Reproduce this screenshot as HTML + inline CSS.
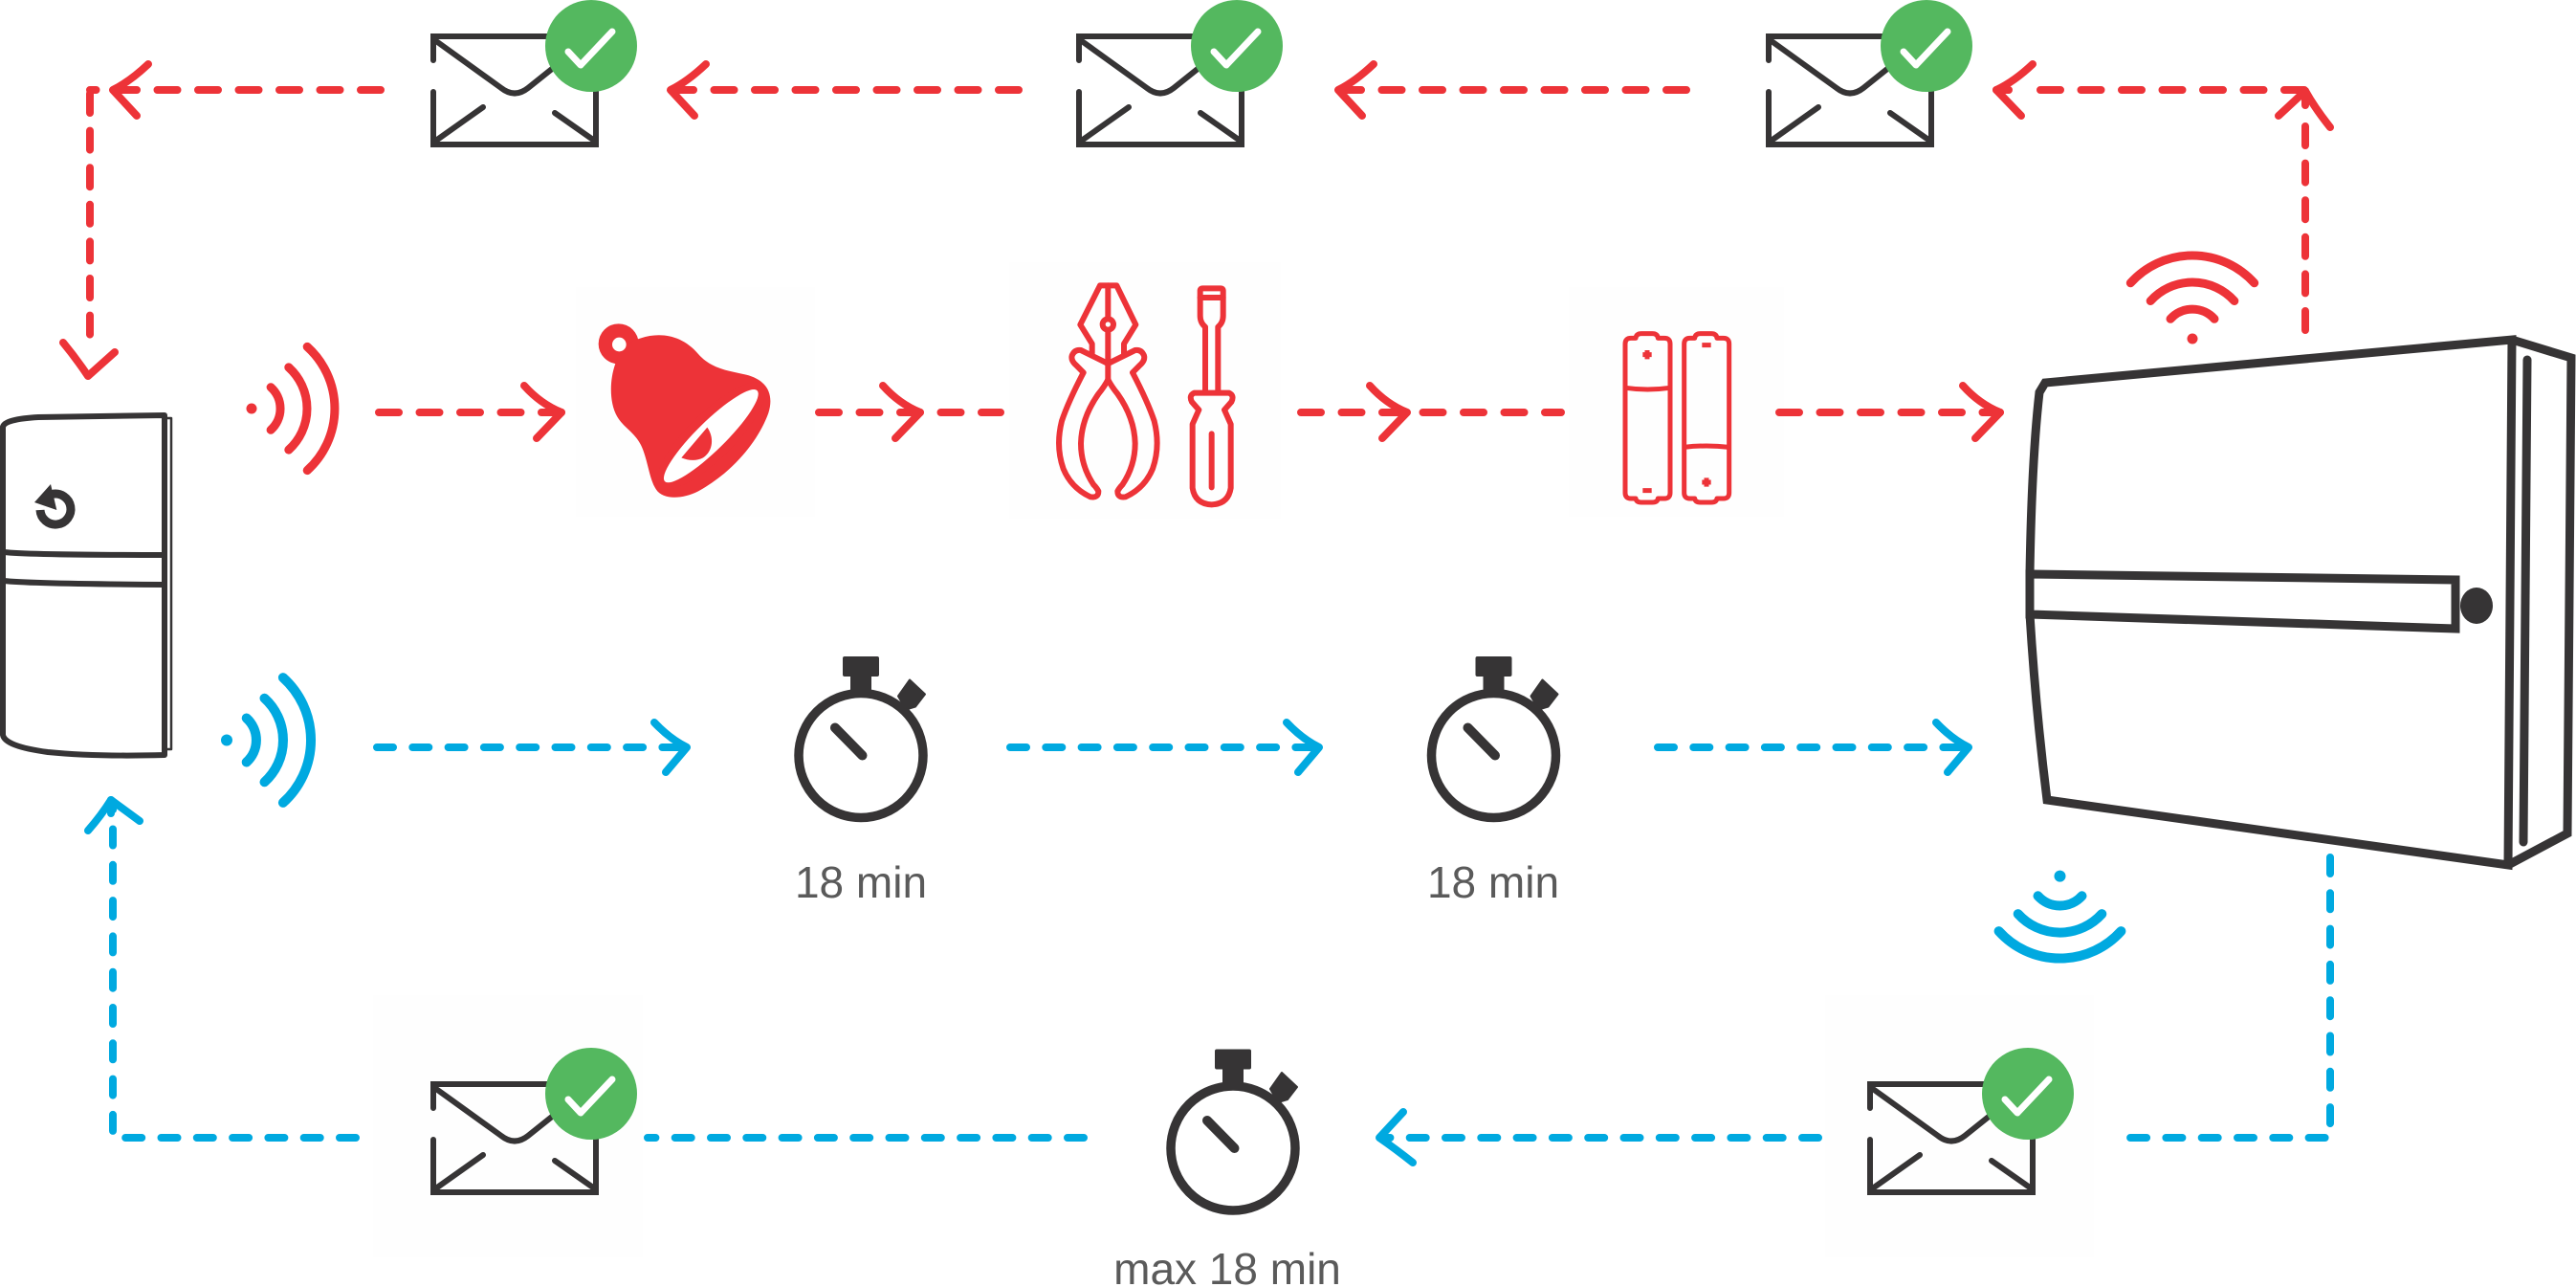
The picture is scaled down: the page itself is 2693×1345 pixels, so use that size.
<!DOCTYPE html>
<html>
<head>
<meta charset="utf-8">
<style>
html,body{margin:0;padding:0;background:#fff;}
svg{display:block;}
</style>
</head>
<body>
<svg width="2693" height="1345" viewBox="0 0 2693 1345" xmlns="http://www.w3.org/2000/svg" xmlns:xlink="http://www.w3.org/1999/xlink">
<defs>
  <g id="env" fill="none" stroke="#363435" stroke-width="6" stroke-linecap="round" stroke-linejoin="miter">
    <path d="M0 25V0H121"/>
    <path d="M0 58V113H170V57"/>
    <path d="M3 5L71 54Q85 65 99 54L124 34"/>
    <path d="M52 74L4 108"/>
    <path d="M127 80L167 108"/>
    <circle cx="165" cy="10" r="48" fill="#54b85f" stroke="none"/>
    <path d="M141 16L154 30L187 -5" stroke="#fff" stroke-width="7" stroke-linejoin="round"/>
  </g>
  <g id="sw">
    <circle r="65" fill="none" stroke="#363435" stroke-width="9.5"/>
    <rect x="-19" y="-103.5" width="38" height="21" rx="2" fill="#363435"/>
    <rect x="-11" y="-84" width="22" height="20" fill="#363435"/>
    <polygon points="51,-79 67,-64 57,-51 47,-48 39,-62" fill="#363435" stroke="#363435" stroke-width="2" stroke-linejoin="round"/>
    <line x1="-27" y1="-29" x2="1.5" y2="0" stroke="#363435" stroke-width="10" stroke-linecap="round"/>
  </g>
</defs>

<!-- faint panels -->
<rect x="390" y="1040" width="282" height="274" fill="#fefefe"/>
<rect x="1908" y="1040" width="281" height="274" fill="#fefefe"/>
<rect x="1055" y="274" width="284" height="268" fill="#fefefe"/>
<rect x="602" y="300" width="250" height="240" fill="#fefefe"/>
<rect x="1640" y="300" width="225" height="240" fill="#fefefe"/>

<!-- ===== RED DASHED CONNECTORS ===== -->
<g fill="none" stroke="#ed3338" stroke-width="8" stroke-linecap="round" stroke-linejoin="round">
  <g stroke-dasharray="21 21.5">
    <path d="M398 94H94"/>
    <path d="M1065 94H705"/>
    <path d="M1763 94H1403"/>
    <path d="M2409 94H2132"/>
    <path d="M396 431H587"/>
    <path d="M856 431H1046"/>
    <path d="M1360 431H1632"/>
    <path d="M1860 431H2091"/>
  </g>
  <g stroke-dasharray="20 18.6">
    <path d="M94 98V365"/>
    <path d="M2410 345V130"/>
  </g>
  <!-- arrowheads -->
  <path d="M155 67Q136 85 118 94L143 121"/>
  <path d="M738 67Q719 85 701 94L726 121"/>
  <path d="M1436 67Q1417 85 1399 94L1424 121"/>
  <path d="M2125 67Q2106 85 2087 94L2113 121"/>
  <path d="M2100 94H2087"/>
  <path d="M66 358Q80 375 92 393L120 368"/>
  <path d="M2382 121L2410 95Q2420 113 2436 133"/>
  <path d="M2410 95V110"/>
  <path d="M548 403Q565 422 587 431L561 458"/>
  <path d="M923 403Q940 422 962 431L936 458"/>
  <path d="M1432 403Q1449 422 1471 431L1445 458"/>
  <path d="M2052 403Q2069 422 2091 431L2065 458"/>
</g>

<!-- ===== BLUE DASHED CONNECTORS ===== -->
<g fill="none" stroke="#00a9e0" stroke-width="8" stroke-linecap="round" stroke-linejoin="round">
  <g stroke-dasharray="17 20.3">
    <path d="M394 781H718"/>
    <path d="M1056 781H1379"/>
    <path d="M1733 781H2058"/>
    <path d="M2436 896V1189H2209"/>
    <path d="M1901 1189H1443"/>
    <path d="M1133 1189H677"/>
    <path d="M372 1189H118V845"/>
  </g>
  <path d="M684 755Q700 772 718 781L696 807"/>
  <path d="M1345 755Q1361 772 1379 781L1357 807"/>
  <path d="M2024 755Q2040 772 2058 781L2036 807"/>
  <path d="M1467 1162L1442 1189Q1458 1200 1477 1215"/>
  <path d="M92 868Q106 852 116 836L146 858"/>
  <path d="M116 836V850"/>
</g>

<!-- ===== WAVES ===== -->
<g fill="none" stroke="#ed3338" stroke-width="9" stroke-linecap="round">
  <path d="M283.1 404.7A30 30 0 0 1 283.1 449.3"/>
  <path d="M301.8 383.9A58 58 0 0 1 301.8 470.1"/>
  <path d="M321.2 362.4A87 87 0 0 1 321.2 491.6"/>
  <path d="M2269 333.3A31 31 0 0 1 2315 333.3"/>
  <path d="M2248.2 314.5A59 59 0 0 1 2335.8 314.5"/>
  <path d="M2227.3 295.8A87 87 0 0 1 2356.7 295.8"/>
</g>
<circle cx="263" cy="427" r="5.5" fill="#ed3338"/>
<circle cx="2292" cy="354" r="5.5" fill="#ed3338"/>
<g fill="none" stroke="#00a9e0" stroke-width="10" stroke-linecap="round">
  <path d="M257.7 750.5A31 31 0 0 1 257.7 796.5"/>
  <path d="M276.5 729.7A59 59 0 0 1 276.5 817.3"/>
  <path d="M295.9 708.1A88 88 0 0 1 295.9 838.9"/>
  <path d="M2130.5 936.3A31 31 0 0 0 2176.5 936.3"/>
  <path d="M2109.7 955.1A59 59 0 0 0 2197.3 955.1"/>
  <path d="M2089.6 973.1A86 86 0 0 0 2217.4 973.1"/>
</g>
<circle cx="237" cy="773.5" r="6" fill="#00a9e0"/>
<circle cx="2153.5" cy="915.6" r="6" fill="#00a9e0"/>

<!-- ===== ENVELOPES ===== -->
<use xlink:href="#env" href="#env" transform="translate(453,38)"/>
<use xlink:href="#env" href="#env" transform="translate(1128,38)"/>
<use xlink:href="#env" href="#env" transform="translate(1849,38)"/>
<use xlink:href="#env" href="#env" transform="translate(453,1133)"/>
<use xlink:href="#env" href="#env" transform="translate(1955,1133)"/>

<!-- ===== STOPWATCHES ===== -->
<use xlink:href="#sw" href="#sw" transform="translate(900,789.5)"/>
<use xlink:href="#sw" href="#sw" transform="translate(1561.5,789.5)"/>
<use xlink:href="#sw" href="#sw" transform="translate(1289,1200)"/>
<g font-family="'Liberation Sans', sans-serif" font-size="46" fill="#5a5a5a" text-anchor="middle">
  <text x="900" y="938">18 min</text>
  <text x="1561" y="938">18 min</text>
  <text x="1283" y="1342">max 18 min</text>
</g>

<!-- ===== LEFT DEVICE ===== -->
<g fill="none" stroke="#363435" stroke-width="6" stroke-linejoin="round">
  <path d="M172 434L40 436Q5 438 3 446L3 768Q5 780 50 786Q100 791 172 789Z" fill="#fff"/>
  <path d="M4 577Q30 580 172 580"/>
  <path d="M4 607Q30 610 172 611"/>
  <path d="M172 437H179V783H172" stroke-width="2.5"/>
  <path d="M54.3 516.5A16 16 0 1 1 42 533" stroke-width="9"/>
</g>
<path d="M36 525L53 506L59.3 533Z" fill="#363435"/>

<!-- ===== HUB ===== -->
<g fill="none" stroke="#363435" stroke-width="9" stroke-linejoin="miter">
  <path d="M2122 600Q2124 480 2132 410L2138 400L2626 355L2622 904L2140 836Q2128 740 2122 642"/>
  <path d="M2626 355L2688 374L2684 871L2622 904"/>
  <path d="M2122 600L2567 606L2567 657L2122 642Z"/>
  <path d="M2642 376L2638 880" stroke-linecap="round"/>
</g>
<ellipse cx="2589" cy="633" rx="17" ry="19" fill="#363435"/>

<!-- ===== BELL ===== -->
<g transform="translate(580,300) scale(0.33333)">
  <circle cx="200" cy="178" r="63" fill="#ed3338"/>
  <path d="M190 240C200 200 230 170 270 160C330 140 400 150 450 210C490 255 540 262 600 275C660 290 690 330 670 395C640 480 560 580 450 640C400 665 340 668 318 635C295 600 292 540 270 495C250 455 215 440 195 405C170 360 172 290 190 240Z" fill="#ed3338"/>
  <ellipse cx="490" cy="467" rx="228" ry="72" transform="rotate(-44.5 490 467)" fill="#ed3338"/>
  <circle cx="202" cy="180" r="22" fill="#fff"/>
  <ellipse cx="490" cy="467" rx="203" ry="45" transform="rotate(-44.5 490 467)" fill="#fff"/>
  <path d="M397 535L478 440C500 470 497 515 465 535C445 546 418 544 397 535Z" fill="#ed3338"/>
</g>

<!-- ===== PLIERS & SCREWDRIVER ===== -->
<g transform="translate(1080,280) scale(0.33333)" fill="none" stroke="#ed3338" stroke-width="18" stroke-linejoin="round" stroke-linecap="round">
  <path d="M185 268L185 238L148 178L210 55L262 55L322 178L285 238L285 268"/>
  <path d="M235 55L235 158"/>
  <circle cx="235" cy="177" r="17"/>
  <path d="M235 196L235 350"/>
  <path d="M235 300L150 258Q130 255 122 275Q118 290 135 305L158 328Q110 420 90 480Q70 560 95 630Q120 690 180 718Q205 722 205 700Q200 690 190 680Q150 620 150 550Q152 470 205 395Q225 370 235 350"/>
  <path d="M235 300L320 258Q340 255 348 275Q352 290 335 305L312 328Q360 420 380 480Q400 560 375 630Q350 690 290 718Q265 722 265 700Q270 690 280 680Q320 620 320 550Q318 470 265 395Q245 370 235 350"/>
  <path d="M540 385L540 185Q524 172 524 150L524 72Q524 64 532 64L588 64Q596 64 596 72L596 150Q596 172 580 185L580 385"/>
  <path d="M524 93H596"/>
  <path d="M560 392L505 392Q488 400 498 420L520 445L500 490L500 690Q508 740 560 742Q612 740 620 690L620 490L600 445L622 420Q632 400 615 392Z"/>
  <path d="M560 520L560 688"/>
</g>

<!-- ===== BATTERIES ===== -->
<g transform="translate(1660,320) scale(0.33333)" fill="none" stroke="#ed3338" stroke-width="15" stroke-linejoin="round">
  <path d="M135 100L150 100Q152 86 168 86L202 86Q218 86 220 100L240 100Q258 100 258 118L258 585Q258 603 240 603L220 603Q218 615 202 615L168 615Q152 615 150 603L135 603Q117 603 117 585L117 118Q117 100 135 100Z"/>
  <path d="M117 256Q187 266 258 256"/>
  <path d="M172 152H200M186 138V166M172 578H200"/>
  <path d="M320 100L335 100Q337 86 353 86L387 86Q403 86 405 100L425 100Q443 100 443 118L443 585Q443 603 425 603L405 603Q403 615 387 615L353 615Q337 615 335 603L320 603Q302 603 302 585L302 118Q302 100 320 100Z"/>
  <path d="M302 442Q372 434 443 442"/>
  <path d="M358 122H386M358 552H386M372 538V566"/>
</g>
</svg>
</body>
</html>
